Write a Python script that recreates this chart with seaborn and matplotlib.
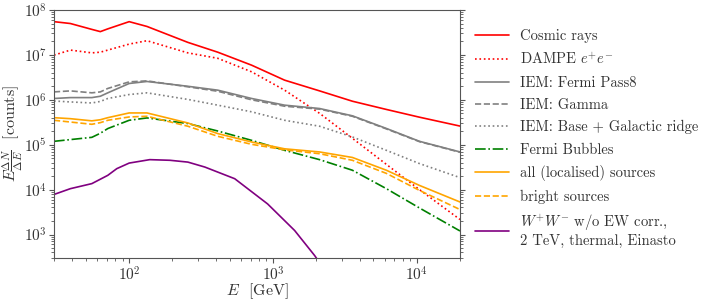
import matplotlib
matplotlib.use("Agg")
import matplotlib.pyplot as plt
import seaborn as sns
import numpy as np

# energies (GeV) of the read-off points
energy = [30, 39, 55, 63, 71, 100, 133, 256, 413, 711, 1205, 2110, 3570, 6150, 10450, 20000]

cosmic_rays = [5.5e7, 5.0e7, 3.7e7, 3.3e7, 3.8e7, 5.5e7, 4.3e7, 1.9e7, 1.15e7, 5.9e6,
               2.74e6, 1.58e6, 9.3e5, 6.1e5, 4.1e5, 2.6e5]
dampe = [9.9e6, 1.28e7, 1.11e7, 1.15e7, 1.28e7, 1.74e7, 2.07e7, 1.11e7, 8.4e6, 4.2e6,
         1.64e6, 5.0e5, 1.39e5, 3.65e4, 1.0e4, 2.16e3]
iem_pass8 = [1.07e6, 1.12e6, 1.12e6, 1.2e6, 1.43e6, 2.31e6, 2.56e6, 2.0e6, 1.64e6, 1.07e6,
             7.6e5, 6.4e5, 4.4e5, 2.3e5, 1.19e5, 6.9e4]
iem_gamma = [1.5e6, 1.58e6, 1.43e6, 1.5e6, 1.79e6, 2.51e6, 2.64e6, 1.95e6, 1.55e6, 1.0e6,
             7.2e5, 6.2e5, 4.3e5, 2.25e5, 1.17e5, 6.8e4]
iem_base = [9.4e5, 8.97e5, 8.5e5, 9.2e5, 1.07e6, 1.31e6, 1.43e6, 1.02e6, 7.6e5, 5.4e5,
            3.5e5, 2.58e5, 1.49e5, 7.5e4, 3.8e4, 1.85e4]
fermi_bubbles = [1.19e5, 1.3e5, 1.46e5, 1.8e5, 2.29e5, 3.5e5, 3.95e5, 2.96e5, 2.02e5, 1.25e5,
                 7.5e4, 4.65e4, 2.7e4, 1.05e4, 3.9e3, 1.2e3]
all_sources = [4.0e5, 3.8e5, 3.4e5, 3.6e5, 4.0e5, 5.1e5, 5.1e5, 3.05e5, 1.77e5, 1.15e5,
               8.1e4, 6.9e4, 5.2e4, 2.7e4, 1.24e4, 5.3e3]
bright_sources = [3.5e5, 3.2e5, 2.85e5, 3.1e5, 3.5e5, 4.15e5, 4.3e5, 2.58e5, 1.54e5, 1.02e5,
                  7.7e4, 6.3e4, 4.5e4, 2.3e4, 9.6e3, 3.6e3]

# dark matter line has its own grid
energy_dm = [30, 39, 55, 71, 82, 100, 139, 192, 256, 336, 542, 918, 1415, 1950, 2110]
ww_dm = [7.8e3, 1.05e4, 1.36e4, 2.08e4, 2.93e4, 3.9e4, 4.65e4, 4.5e4, 4.1e4, 3.18e4,
         1.75e4, 4.8e3, 1.23e3, 340, 237]

sns.set_style("ticks")
plt.rcParams['font.family'] = ['cmr10']
plt.rcParams['mathtext.fontset'] = 'cm'
plt.rcParams['axes.unicode_minus'] = False
plt.rcParams['axes.formatter.use_mathtext'] = True

fig = plt.figure(figsize=(7.06, 3.03), dpi=100)
ax = fig.add_axes([54 / 706, 1 - 258 / 303, 406 / 706, 248 / 303])

lw = 1.2
series = [
    (energy, cosmic_rays, 'red', '-', 'Cosmic rays'),
    (energy, dampe, 'red', ':', r'DAMPE $e^{+}e^{-}$'),
    (energy, iem_pass8, 'gray', '-', 'IEM: Fermi Pass8'),
    (energy, iem_gamma, 'gray', '--', 'IEM: Gamma'),
    (energy, iem_base, 'gray', ':', 'IEM: Base + Galactic ridge'),
    (energy, fermi_bubbles, 'green', '-.', 'Fermi Bubbles'),
    (energy, all_sources, 'orange', '-', 'all (localised) sources'),
    (energy, bright_sources, 'orange', '--', 'bright sources'),
    (energy_dm, ww_dm, 'purple', '-', '$W^{+}W^{-}$ w/o EW corr.,\n2 TeV, thermal, Einasto'),
]
for xs, ys, col, ls, lab in series:
    sns.lineplot(x=xs, y=ys, color=col, linestyle=ls, linewidth=lw, label=lab, ax=ax)

ax.set_xscale('log')
ax.set_yscale('log')
ax.set_xlim(30, 2e4)
ax.set_ylim(3e2, 1e8)
ax.set_xlabel(r'$E$  [GeV]', fontsize=11.5, color='#333333', labelpad=-1)
ax.set_ylabel(r'$E\frac{\Delta N}{\Delta E}$  [counts]', fontsize=11.5, color='#333333', labelpad=-1)

for s in ax.spines.values():
    s.set_color('#555555')
    s.set_linewidth(0.8)
ax.tick_params(which='both', direction='out', colors='#555555', labelcolor='#333333',
               right=True, top=False, labelsize=11, pad=1.5)
ax.tick_params(which='major', length=3.5, width=0.8)
ax.tick_params(which='minor', length=2, width=0.6)

handles, labels = ax.get_legend_handles_labels()
ax.get_legend().remove()
fig.legend(handles, labels, loc='upper left', bbox_to_anchor=(462 / 706, 1 - 16 / 303),
           frameon=False, fontsize=10.5, handlelength=2.3, labelspacing=0.58,
           handletextpad=0.8, labelcolor='#333333')

fig.savefig('out.png', dpi=100)
